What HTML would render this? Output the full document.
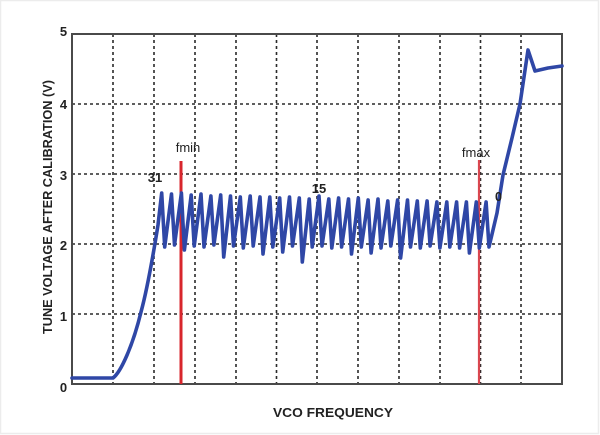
<!DOCTYPE html>
<html>
<head>
<meta charset="utf-8">
<style>
  html, body { margin: 0; padding: 0; background: #ffffff; }
  body { width: 600px; height: 435px; overflow: hidden; }
  svg { display: block; }
  text { font-family: "Liberation Sans", Arial, sans-serif; fill: #222; }
</style>
</head>
<body>
<svg width="600" height="435" viewBox="0 0 600 435" xmlns="http://www.w3.org/2000/svg">
  <rect x="0" y="0" width="600" height="435" fill="#ffffff"/>
  <rect x="0.5" y="0.5" width="598" height="433" fill="none" stroke="#ececec" stroke-width="1.5"/>

  <!-- grid -->
  <g stroke="#2a2a2a" stroke-width="1.6" stroke-dasharray="3,3" fill="none">
    <line x1="72" y1="104" x2="562" y2="104"/>
    <line x1="72" y1="174" x2="562" y2="174"/>
    <line x1="72" y1="244" x2="562" y2="244"/>
    <line x1="72" y1="314" x2="562" y2="314"/>
    <line x1="113" y1="34" x2="113" y2="384"/>
    <line x1="154" y1="34" x2="154" y2="384"/>
    <line x1="195" y1="34" x2="195" y2="384"/>
    <line x1="236" y1="34" x2="236" y2="384"/>
    <line x1="276.5" y1="34" x2="276.5" y2="384"/>
    <line x1="317" y1="34" x2="317" y2="384"/>
    <line x1="358" y1="34" x2="358" y2="384"/>
    <line x1="399" y1="34" x2="399" y2="384"/>
    <line x1="440" y1="34" x2="440" y2="384"/>
    <line x1="480.5" y1="34" x2="480.5" y2="384"/>
    <line x1="521" y1="34" x2="521" y2="384"/>
  </g>

  <!-- frame -->
  <rect x="72" y="34" width="490" height="350" fill="none" stroke="#4a4a4a" stroke-width="2"/>

  <!-- red markers -->
  <line x1="181" y1="161" x2="181" y2="384" stroke="#d8262c" stroke-width="3"/>
  <line x1="479" y1="160" x2="479" y2="384" stroke="#d9474f" stroke-width="2.2"/>

  <!-- tune voltage curve -->
  <path fill="none" stroke="#2f47a6" stroke-width="3.6" stroke-linejoin="round" stroke-linecap="round"
    d="M72,378 L113,378 C121,372 133,345 141,312 C147,290 154,250 158,225 L161.7,193
       L164.7,247 L171.5,194
       L174.5,245 L181.4,193
       L184.4,250 L191.2,195
       L194.2,246 L201,194
       L204,247 L210.9,196
       L213.9,245 L220.7,195
       L223.7,257 L230.5,196
       L233.5,246 L240.3,197
       L243.3,248 L250.2,196
       L253.2,246 L260,197
       L263,254 L269.8,197
       L272.8,247 L279.7,198
       L282.7,252 L289.5,197
       L292.5,246 L299.3,198
       L302.3,262 L309.2,199
       L312.2,247 L319,196
       L322,246 L328.8,199
       L331.8,248 L338.6,198
       L341.6,247 L348.5,199
       L351.5,254 L358.3,198
       L361.3,247 L368.1,200
       L371.1,253 L378,199
       L381,248 L387.8,201
       L390.8,246 L397.6,200
       L400.6,258 L407.5,200
       L410.5,247 L417.3,201
       L420.3,248 L427.1,201
       L430.1,246 L436.9,202
       L439.9,248 L446.8,202
       L449.8,247 L456.6,202
       L459.6,248 L466.4,202
       L469.4,253 L476.3,202
       L479.3,248 L486.1,202
       L489,247 L497,213 L503,175 L512,138 L520,104 L528,50 L535,71 L548,68 L562,66"/>

  <!-- y tick labels -->
  <g font-size="13" font-weight="bold" text-anchor="middle">
    <text x="63.5" y="36">5</text>
    <text x="63.5" y="109">4</text>
    <text x="63.5" y="180">3</text>
    <text x="63.5" y="250">2</text>
    <text x="63.5" y="321">1</text>
    <text x="63.5" y="392">0</text>
  </g>

  <!-- annotations -->
  <text x="155" y="182" font-size="13" font-weight="bold" text-anchor="middle">31</text>
  <text x="188" y="152" font-size="13" text-anchor="middle">fmin</text>
  <text x="319" y="193" font-size="13" font-weight="bold" text-anchor="middle">15</text>
  <text x="476" y="157" font-size="13" text-anchor="middle">fmax</text>
  <text x="498.5" y="201" font-size="12.5" font-weight="bold" text-anchor="middle">0</text>

  <!-- axis titles -->
  <text x="333" y="417" font-size="13" font-weight="bold" text-anchor="middle" textLength="120" lengthAdjust="spacingAndGlyphs">VCO FREQUENCY</text>
  <text transform="translate(52,207) rotate(-90)" x="0" y="0" font-size="12.5" font-weight="bold" text-anchor="middle" textLength="254" lengthAdjust="spacingAndGlyphs">TUNE VOLTAGE AFTER CALIBRATION (V)</text>
</svg>
</body>
</html>
